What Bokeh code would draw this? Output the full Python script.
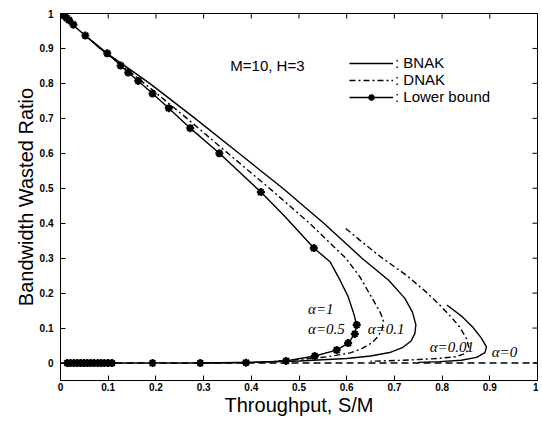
import math
from bokeh.plotting import figure
from bokeh.models import Range1d, FixedTicker, NumeralTickFormatter, Legend, LegendItem, Label
from bokeh.embed import file_html
from bokeh.resources import INLINE

# ---- data ----
x_ticks = [0, 0.1, 0.2, 0.3, 0.4, 0.5, 0.6, 0.7, 0.8, 0.9, 1.0]
y_ticks = [0, 0.1, 0.2, 0.3, 0.4, 0.5, 0.6, 0.7, 0.8, 0.9, 1.0]

# Lower bound (alpha = 1 / 0.5) curve
lb_x = [0.003, 0.01, 0.027, 0.052, 0.098, 0.126, 0.142, 0.163, 0.193, 0.227, 0.272, 0.333, 0.42, 0.47,
        0.531, 0.565, 0.586, 0.603, 0.615, 0.621, 0.617, 0.603, 0.579, 0.533, 0.473, 0.389, 0.293,
        0.193, 0.108, 0.014]
lb_y = [1.0, 0.994, 0.966, 0.937, 0.886, 0.851, 0.831, 0.807, 0.771, 0.729, 0.672, 0.600, 0.489, 0.42,
        0.329, 0.29, 0.237, 0.19, 0.14, 0.109, 0.083, 0.057, 0.037, 0.02, 0.006, 0.001, 0.0,
        0.0, 0.0, 0.0]
# Lower bound markers
lb_mx = [0.004, 0.008, 0.013, 0.018, 0.027, 0.052, 0.098, 0.126, 0.142, 0.163, 0.193, 0.227, 0.272,
         0.333, 0.42, 0.531, 0.621, 0.617, 0.603, 0.579, 0.533, 0.473, 0.389, 0.293, 0.193,
         0.108, 0.1, 0.092, 0.085, 0.078, 0.07, 0.063, 0.056, 0.049, 0.042, 0.035, 0.028, 0.021, 0.014]
lb_my = [0.998, 0.993, 0.987, 0.981, 0.968, 0.937, 0.886, 0.851, 0.831, 0.807, 0.771, 0.729, 0.672,
         0.600, 0.489, 0.329, 0.109, 0.083, 0.057, 0.037, 0.02, 0.006, 0.001, 0.0, 0.0,
         0.0, 0.0, 0.0, 0.0, 0.0, 0.0, 0.0, 0.0, 0.0, 0.0, 0.0, 0.0, 0.0, 0.0]

# BNAK, alpha = 0.1 (solid)
bnak01_x = [0.052, 0.083, 0.135, 0.187, 0.282, 0.374, 0.466, 0.552, 0.632, 0.688, 0.722, 0.738, 0.745,
            0.743, 0.735, 0.718, 0.69, 0.65, 0.6, 0.5, 0.4, 0.3]
bnak01_y = [0.937, 0.9, 0.85, 0.8, 0.7, 0.6, 0.5, 0.4, 0.3, 0.237, 0.185, 0.145, 0.11,
            0.085, 0.063, 0.045, 0.03, 0.02, 0.013, 0.006, 0.002, 0.0]
# DNAK, alpha = 0.1 (dash-dot)
dnak01_x = [0.052, 0.083, 0.13, 0.176, 0.265, 0.351, 0.438, 0.522, 0.598, 0.628, 0.645, 0.662, 0.672,
            0.677, 0.674, 0.665, 0.652, 0.63, 0.607, 0.56, 0.5, 0.45]
dnak01_y = [0.937, 0.9, 0.85, 0.8, 0.7, 0.6, 0.5, 0.4, 0.3, 0.246, 0.205, 0.165, 0.14,
            0.12, 0.095, 0.075, 0.057, 0.04, 0.029, 0.018, 0.01, 0.005]
# DNAK, alpha = 0.01 (dash-dot)
dnak001_x = [0.598, 0.628, 0.67, 0.726, 0.765, 0.795, 0.82, 0.837, 0.851, 0.856, 0.85, 0.83, 0.78,
             0.72, 0.65]
dnak001_y = [0.385, 0.351, 0.305, 0.25, 0.205, 0.166, 0.13, 0.103, 0.07, 0.045, 0.028, 0.018, 0.012,
             0.008, 0.005]
# BNAK, alpha = 0.01 (solid)
bnak001_x = [0.81, 0.84, 0.864, 0.882, 0.893, 0.89, 0.872, 0.84, 0.795, 0.75]
bnak001_y = [0.166, 0.135, 0.103, 0.072, 0.046, 0.03, 0.016, 0.008, 0.004, 0.002]
# alpha = 0 (dashed)
a0_x = [0.0, 1.0]
a0_y = [0.0, 0.0]

legend_labels = [": BNAK", ": DNAK", ": Lower bound"]
alpha_labels = ["\u03b1=1", "\u03b1=0.5", "\u03b1=0.1", "\u03b1=0.01", "\u03b1=0"]
note = "M=10, H=3"

X0, X1, Y0, Y1 = 0.0, 1.0, -0.05, 1.0

# ---- figure ----
p = figure(width=538, height=419, x_range=Range1d(X0, X1), y_range=Range1d(Y0, Y1),
           output_backend="svg", toolbar_location=None,
           min_border_left=60, min_border_right=1, min_border_top=13, min_border_bottom=39)
p.grid.visible = False
p.outline_line_color = "black"
p.outline_line_width = 1
p.background_fill_color = "white"
p.border_fill_color = "white"

def style_axis(ax, ticks, standoff):
    ax.ticker = FixedTicker(ticks=ticks)
    ax.formatter = NumeralTickFormatter(format="0.[0]")
    ax.major_tick_in = 5
    ax.major_tick_out = 0
    ax.minor_tick_line_color = None
    ax.axis_line_color = "black"
    ax.major_tick_line_color = "black"
    ax.major_label_text_font = "Liberation Sans"
    ax.major_label_text_font_style = "bold"
    ax.major_label_text_color = "black"
    ax.major_label_text_font_size = "10px"
    ax.major_label_standoff = standoff
    ax.axis_label_text_font = "Liberation Sans"
    ax.axis_label_text_font_size = "20px"
    ax.axis_label_text_font_style = "normal"
    ax.axis_label_text_color = "black"
    ax.axis_label_standoff = 0

style_axis(p.xaxis[0], x_ticks, 2)
style_axis(p.yaxis[0], y_ticks, 7)
p.xaxis.axis_label = "Throughput, S/M"
p.yaxis.axis_label = "Bandwidth Wasted Ratio"

# inward ticks on the top and right edges of the box (half of each dash is clipped by the frame)
p.scatter(x_ticks, [Y1] * len(x_ticks), marker="dash", angle=math.pi / 2, size=10,
          line_color="black", line_width=1)
p.scatter([X1] * len(y_ticks), y_ticks, marker="dash", size=10, line_color="black", line_width=1)

LW = 1.4
r_a0 = p.line(a0_x, a0_y, line_color="black", line_width=LW, line_dash="7 4")
r_bn01 = p.line(bnak01_x, bnak01_y, line_color="black", line_width=LW)
r_dn01 = p.line(dnak01_x, dnak01_y, line_color="black", line_width=LW, line_dash="6 3 2 3")
r_dn001 = p.line(dnak001_x, dnak001_y, line_color="black", line_width=LW, line_dash="6 3 2 3")
r_bn001 = p.line(bnak001_x, bnak001_y, line_color="black", line_width=LW)
r_lb = p.line(lb_x, lb_y, line_color="black", line_width=LW)
r_lbm = p.scatter(lb_mx, lb_my, marker="asterisk", size=8, line_color="black", line_width=2.2)

legend = Legend(items=[LegendItem(label=legend_labels[0], renderers=[r_bn01]),
                       LegendItem(label=legend_labels[1], renderers=[r_dn01]),
                       LegendItem(label=legend_labels[2], renderers=[r_lb, r_lbm])],
                location=(289, 275), padding=0, margin=0, spacing=0,
                glyph_width=44, glyph_height=16, label_height=16, label_standoff=2,
                border_line_color=None, background_fill_alpha=0,
                label_text_font="Liberation Sans", label_text_font_size="15px",
                label_text_color="black")
p.add_layout(legend, "center")

p.add_layout(Label(x=0.356, y=0.851, text=note, text_font="Liberation Sans", text_font_size="15px",
                   text_baseline="middle", text_color="black"))

alpha_pos = [(0.519, 0.154), (0.519, 0.097), (0.644, 0.097), (0.774, 0.046), (0.904, 0.031)]
for txt, (lx, ly) in zip(alpha_labels, alpha_pos):
    p.add_layout(Label(x=lx, y=ly, text=txt, text_font="Liberation Serif", text_font_size="15px",
                       text_font_style="italic", text_baseline="middle", text_color="black"))

open("out.html", "w").write(file_html(p, INLINE))
